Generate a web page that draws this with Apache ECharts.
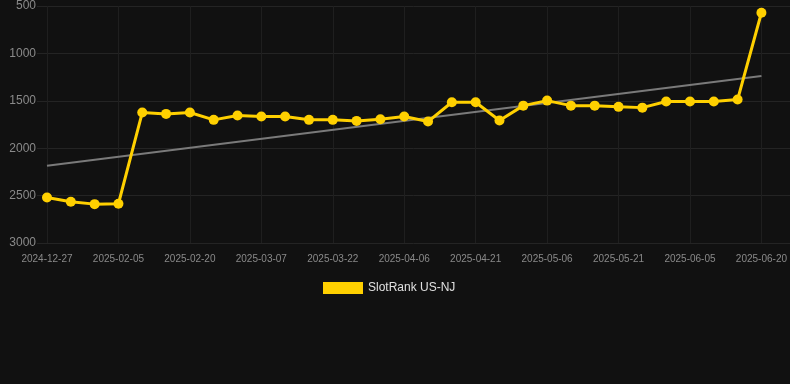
<!DOCTYPE html>
<html>
<head>
<meta charset="utf-8">
<script src="https://cdn.jsdelivr.net/npm/echarts@6/dist/echarts.min.js"></script>
<style>html,body{margin:0;padding:0;background:#111111;}#c{width:790px;height:384px;}</style>
</head>
<body>
<div id="c"></div>
<script>
var categories = ['2024-12-27','2025-01-09','2025-01-22','2025-02-05','2025-02-10','2025-02-15','2025-02-20','2025-02-25','2025-03-02','2025-03-07','2025-03-12','2025-03-17','2025-03-22','2025-03-27','2025-04-01','2025-04-06','2025-04-11','2025-04-16','2025-04-21','2025-04-26','2025-05-01','2025-05-06','2025-05-11','2025-05-16','2025-05-21','2025-05-26','2025-05-31','2025-06-05','2025-06-10','2025-06-15','2025-06-20'];
var rankValues = [2520,2565,2590,2586,1624,1638,1624,1701,1655,1666,1666,1701,1701,1712,1694,1666,1719,1515,1515,1708,1551,1498,1551,1551,1564,1572,1508,1508,1508,1487,571];
var trendStart = 2185;
var trendEnd = 1238;
var yTicks = [500, 1000, 1500, 2000, 2500, 3000];

var trendData = categories.map(function(c, i){
  if (i === 0) return trendStart;
  if (i === categories.length - 1) return trendEnd;
  return null;
});

var font = 'Arial, Liberation Sans, sans-serif';
var chart = echarts.init(document.getElementById('c'), null, {renderer:'canvas'});
chart.setOption({
  backgroundColor: '#111111',
  animation: false,
  grid: [
    {left: 47, right: 28, top: 6, bottom: 141, containLabel: false},
    {left: 37, right: 0, top: 6, bottom: 141, containLabel: false}
  ],
  legend: {
    top: 277, left: 318,
    itemWidth: 40, itemHeight: 12, itemGap: 6,
    textStyle: {color: '#e0e0e0', fontSize: 12, fontFamily: font},
    data: [{name: 'SlotRank US-NJ', icon: 'rect'}]
  },
  xAxis: [{
    type: 'category',
    gridIndex: 0,
    data: categories,
    boundaryGap: false,
    axisLine: {show: false},
    axisTick: {show: false},
    axisLabel: {interval: 2, color: '#8a8a8a', fontSize: 10, margin: 11, fontFamily: font},
    splitLine: {show: true, interval: 2, lineStyle: {color: '#1f1f1f', width: 1}}
  }, {
    type: 'value',
    gridIndex: 1,
    min: 0, max: 1,
    show: false
  }],
  yAxis: [{
    type: 'value',
    gridIndex: 0,
    inverse: true,
    min: yTicks[0], max: yTicks[yTicks.length-1], interval: 500,
    axisLine: {show: false},
    axisTick: {show: false},
    axisLabel: {color: '#8a8a8a', fontSize: 12, margin: 11, fontFamily: font, formatter: function(v){ return String(v); }},
    splitLine: {show: false}
  }, {
    type: 'value',
    gridIndex: 1,
    inverse: true,
    min: yTicks[0], max: yTicks[yTicks.length-1], interval: 500,
    axisLine: {show: false},
    axisTick: {show: false},
    axisLabel: {show: false},
    splitLine: {show: true, lineStyle: {color: '#242424', width: 1}}
  }],
  series: [
    {
      name: 'SlotRank US-NJ',
      type: 'line',
      data: rankValues,
      color: '#ffd000',
      lineStyle: {color: '#ffd000', width: 3},
      itemStyle: {color: '#ffd000'},
      symbol: 'circle', symbolSize: 10,
      z: 3
    },
    {
      name: 'trend',
      type: 'line',
      data: trendData,
      connectNulls: true,
      symbol: 'none',
      lineStyle: {color: '#7a7a7a', width: 2},
      itemStyle: {color: '#7a7a7a'},
      z: 2,
      silent: true
    }
  ]
});
</script>
</body>
</html>
